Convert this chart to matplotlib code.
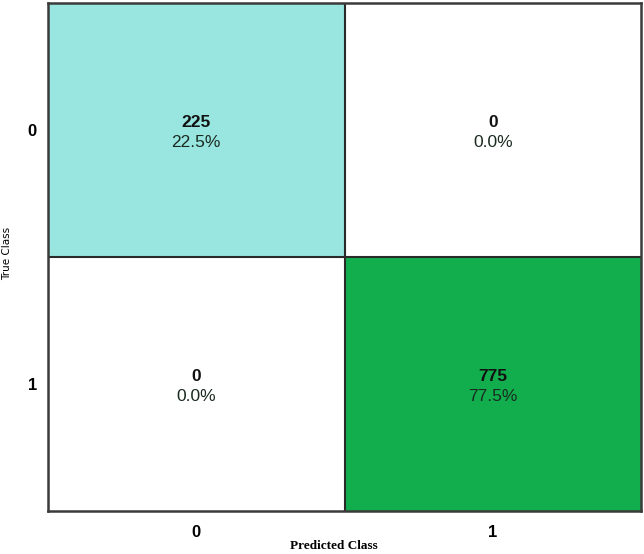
import numpy as np
import matplotlib.pyplot as plt
from matplotlib.colors import to_rgb

# confusion matrix values
classes = ['0', '1']
counts = [[225, 0],
          [0, 775]]
total = 1000

cell_colors = [['#98e6df', '#ffffff'],
               ['#ffffff', '#12ae4e']]

fig = plt.figure(figsize=(6.44, 5.54), dpi=100)
ax = fig.add_axes([0.0745, 0.077, 0.921, 0.918])

cm = np.array(counts)
rgb = np.array([[to_rgb(c) for c in row] for row in cell_colors])
ax.imshow(rgb, aspect='auto', extent=(-0.5, 1.5, 1.5, -0.5))

for i in range(2):
    for j in range(2):
        ax.text(j, i - 0.03, str(cm[i, j]), ha='center', va='center',
                fontsize=12.5, fontweight='bold', color='#111111',
                family='Liberation Sans')
        pct = 100.0 * cm[i, j] / total
        ax.text(j, i + 0.05, '%.1f%%' % pct, ha='center', va='center',
                fontsize=12.5, color='#1a2a20', family='Liberation Sans')

# grid lines between cells
ax.axhline(0.5, color='#2a2a2a', lw=1.5)
ax.axvline(0.5, color='#2a2a2a', lw=1.5)
for s in ax.spines.values():
    s.set_color('#3a3a3a')
    s.set_linewidth(1.8)

ax.set_xticks([0, 1])
ax.set_yticks([0, 1])
ax.set_xticklabels(classes, fontsize=12, fontweight='bold', family='Liberation Sans')
ax.set_yticklabels(classes, fontsize=12, fontweight='bold', family='Liberation Sans')
ax.tick_params(length=0)
ax.tick_params(axis='x', pad=10)
ax.tick_params(axis='y', pad=8)

fig.text(0.519, 0.014, 'Predicted Class', ha='center', va='center',
         fontsize=9.5, fontweight='bold', family='Liberation Serif')
fig.text(0.011, 0.543, 'True Class', ha='center', va='center',
         rotation=90, fontsize=7.5)

plt.savefig('out.png', dpi=100)
